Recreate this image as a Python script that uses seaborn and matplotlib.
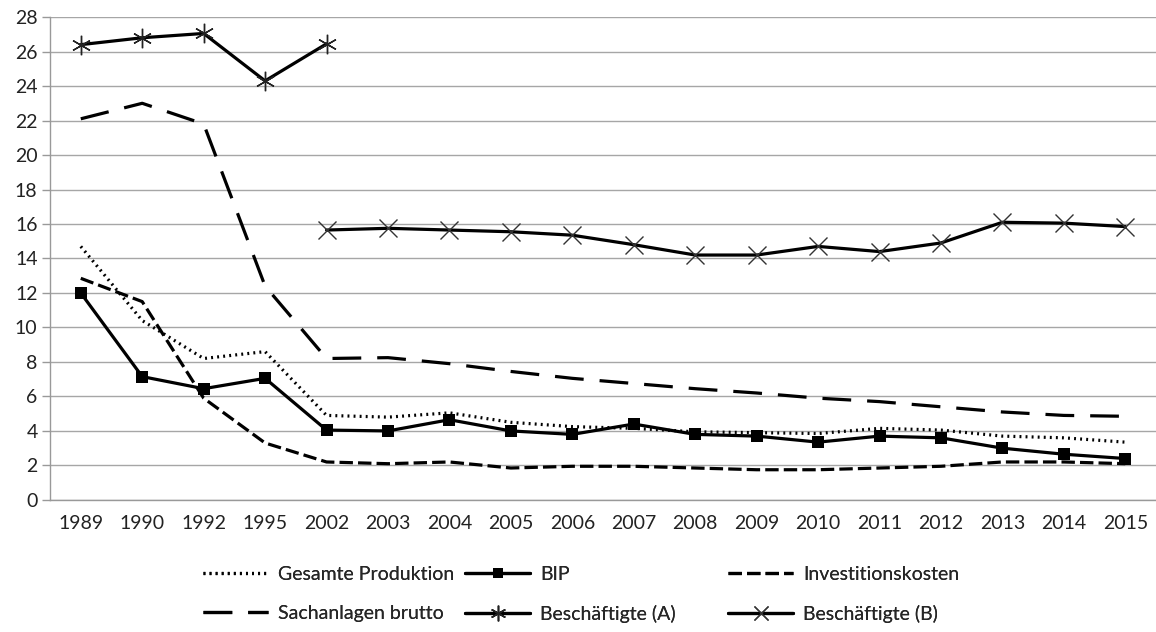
import numpy as np
import pandas as pd
import seaborn as sns
import matplotlib.pyplot as plt
from matplotlib.ticker import MultipleLocator

years = ["1989", "1990", "1992", "1995", "2002", "2003", "2004", "2005", "2006",
         "2007", "2008", "2009", "2010", "2011", "2012", "2013", "2014", "2015"]

gesamte_produktion = [14.7, 10.4, 8.2, 8.6, 4.9, 4.8, 5.05, 4.5, 4.25,
                      4.15, 3.95, 3.9, 3.85, 4.15, 4.05, 3.7, 3.6, 3.35]
bip = [12.0, 7.15, 6.45, 7.05, 4.05, 4.0, 4.65, 4.0, 3.8,
       4.4, 3.8, 3.7, 3.35, 3.7, 3.6, 3.0, 2.65, 2.4]
investitionskosten = [12.85, 11.5, 5.9, 3.3, 2.2, 2.1, 2.2, 1.85, 1.95,
                      1.95, 1.85, 1.75, 1.75, 1.85, 1.95, 2.2, 2.2, 2.1]
sachanlagen = [22.1, 23.0, 21.8, 12.4, 8.2, 8.25, 7.9, 7.45, 7.05,
               6.75, 6.45, 6.2, 5.9, 5.7, 5.4, 5.1, 4.9, 4.85]
besch_a_years = ["1989", "1990", "1992", "1995", "2002"]
besch_a = [26.4, 26.8, 27.05, 24.3, 26.45]
besch_b_years = ["2002", "2003", "2004", "2005", "2006", "2007", "2008", "2009",
                 "2010", "2011", "2012", "2013", "2014", "2015"]
besch_b = [15.65, 15.75, 15.65, 15.55, 15.35, 14.8, 14.2, 14.2,
           14.7, 14.4, 14.9, 16.1, 16.05, 15.85]

sns.set_style("white")
plt.rcParams['font.family'] = ['Lato', 'DejaVu Sans']

fig = plt.figure(figsize=(11.56, 6.32), dpi=100)
ax = fig.add_axes([0.0433, 0.209, 0.9567, 0.764])

pos = {y: i for i, y in enumerate(years)}
lw = 2.3
fs = 14

sns.lineplot(x=[pos[y] for y in years], y=gesamte_produktion, ax=ax, color="black",
             lw=lw, label="Gesamte Produktion")
ax.lines[-1].set_linestyle((0, (0.6, 1.3)))
sns.lineplot(x=[pos[y] for y in years], y=bip, ax=ax, color="black", lw=lw,
             marker="s", markersize=9, markeredgewidth=0, label="BIP")
sns.lineplot(x=[pos[y] for y in years], y=investitionskosten, ax=ax, color="black",
             lw=lw, label="Investitionskosten")
ax.lines[-1].set_linestyle((0, (4.2, 1.6)))
sns.lineplot(x=[pos[y] for y in years], y=sachanlagen, ax=ax, color="black",
             lw=lw, label="Sachanlagen brutto")
ax.lines[-1].set_linestyle((0, (9, 5)))
sns.lineplot(x=[pos[y] for y in besch_a_years], y=besch_a, ax=ax, color="black",
             lw=lw, marker=(6, 2, 0), markersize=14, markeredgewidth=1,
             markeredgecolor="#222222", label="Beschäftigte (A)")
sns.lineplot(x=[pos[y] for y in besch_b_years], y=besch_b, ax=ax, color="black",
             lw=lw, marker="x", markersize=13, markeredgewidth=1,
             markeredgecolor="#333333", label="Beschäftigte (B)")

ax.set_xlim(-0.5, len(years) - 0.5)
ax.set_ylim(0, 28)
ax.yaxis.set_major_locator(MultipleLocator(2))
ax.set_xticks(range(len(years)))
ax.set_xticklabels(years)
ax.set_xticks(np.arange(-0.5, len(years), 1), minor=True)
ax.tick_params(axis="x", which="major", length=0, pad=11, labelsize=fs, colors="#222222")
ax.tick_params(axis="x", which="minor", length=7, width=1, color="#999999", direction="out")
ax.tick_params(axis="y", length=6, width=1, color="#999999", pad=3, labelsize=fs,
               colors="#222222", left=True)
ax.yaxis.grid(True, color="#a6a6a6", lw=1)
ax.set_axisbelow(True)
for side in ["top", "right"]:
    ax.spines[side].set_visible(False)
for side in ["left", "bottom"]:
    ax.spines[side].set_color("#999999")
    ax.spines[side].set_linewidth(1)

handles, labels = ax.get_legend_handles_labels()
ax.get_legend().remove()

# one legend per column, as in the original layout
columns = [([0, 3], 0.1756), ([1, 4], 0.4023), ([2, 5], 0.6298)]
for idx, xpos in columns:
    leg = fig.legend([handles[i] for i in idx], [labels[i] for i in idx],
                     loc="upper left", bbox_to_anchor=(xpos, 0.104), frameon=False,
                     fontsize=fs, handlelength=3.35, handletextpad=0.5,
                     labelspacing=1.1, borderpad=0, borderaxespad=0, markerscale=0.8)
    fig.add_artist(leg)

fig.savefig("out.png", dpi=100)
